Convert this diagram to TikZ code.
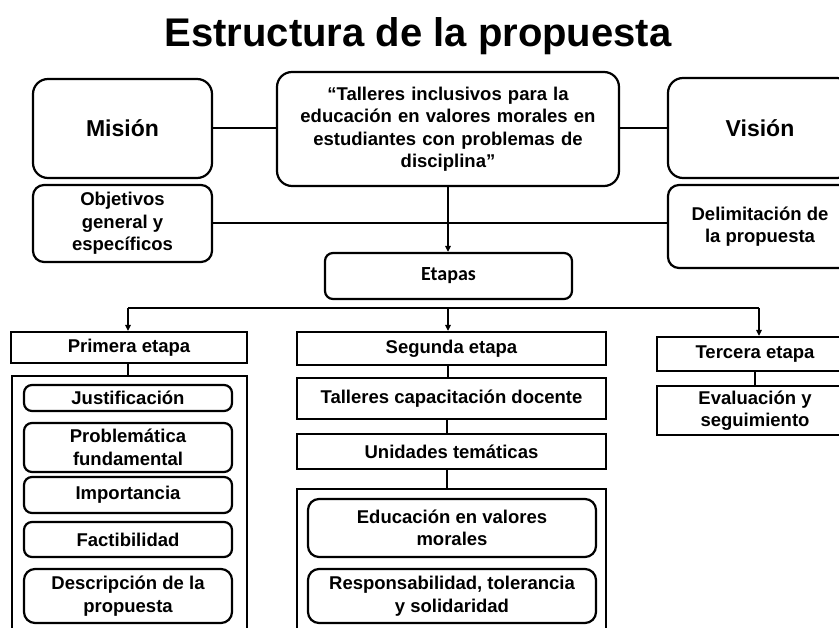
\documentclass[tikz,border=0pt]{standalone}
\usepackage{fontspec}
\setmainfont{Liberation Sans}
\newfontfamily\etfont{Carlito}
\usetikzlibrary{arrows.meta}
\begin{document}
\begin{tikzpicture}[x=1pt,y=-1pt,
  base/.style={draw,line width=2.2pt,align=center,inner sep=0pt,
    font=\bfseries\fontsize{18.5}{22.5}\selectfont},
  rbig/.style={base,rounded corners=15pt},
  rmid/.style={base,rounded corners=11pt},
  rsm/.style={base,rounded corners=8pt},
  sbox/.style={base},
  bigtxt/.style={font=\bfseries\fontsize{23}{27}\selectfont},
  conn/.style={line width=2pt},
  arr/.style={line width=2pt,-{Triangle[length=6pt,width=5.5pt]}}
]
\useasboundingbox (0,0) rectangle (839,628);
\clip (0,0) rectangle (839,628);

\node[anchor=base,font=\bfseries\fontsize{40}{46}\selectfont] (title) at (418,47) {Estructura de la propuesta};

% top row
\node[rbig,bigtxt,minimum width=179pt,minimum height=99pt] (mision) at (122.5,128.5) {Misión};
\node[rbig,minimum width=342pt,minimum height=114pt,text width=330pt] (tema) at (448,129)
  {“Talleres inclusivos para la\\educación en valores morales en\\estudiantes con problemas de\\disciplina"};
\node[rbig,bigtxt,minimum width=184pt,minimum height=100pt] (vision) at (760,128) {Visión};
\node[rmid,minimum width=179pt,minimum height=77pt] (obj) at (122.5,223.5) {Objetivos\\general y\\específicos};
\node[rmid,minimum width=184pt,minimum height=83pt] (delim) at (760,226.5) {Delimitación de\\la propuesta};
\node[rsm,minimum width=247pt,minimum height=46pt,font=\etfont\bfseries\fontsize{20}{24}\selectfont] (etapas) at (448.5,276) {Etapas};

\draw[conn] (mision.east) -- (tema.west |- mision.east);
\draw[conn] (tema.east |- vision.west) -- (vision.west);
\draw[conn] (obj.east) -- (delim.west |- obj.east);
\draw[arr] (tema.south) -- (tema.south |- etapas.north);

% branching bar
\coordinate (bl) at (128,308);
\coordinate (bm) at (448,308);
\coordinate (br) at (759,308);
\draw[conn] (bl) -- (br);

% stage 1
\node[sbox,minimum width=236pt,minimum height=31pt] (prim) at (129,347.5) {Primera etapa};
\node[sbox,minimum width=235pt,minimum height=270pt] (cont1) at (129.5,511) {};
\node[rsm,minimum width=208pt,minimum height=26pt] (just) at (128,398) {Justificación};
\node[rsm,minimum width=208pt,minimum height=49pt] (prob) at (128,447.5) {Problemática\\fundamental};
\node[rsm,minimum width=208pt,minimum height=36pt] (imp) at (128,495) {Importancia};
\node[rsm,minimum width=208pt,minimum height=35pt] (fact) at (128,539.5) {Factibilidad};
\node[rmid,minimum width=208pt,minimum height=54pt] (desc) at (128,596) {Descripción de la\\propuesta};

% stage 2
\node[sbox,minimum width=309pt,minimum height=33pt] (seg) at (451.5,348.5) {Segunda etapa};
\node[sbox,minimum width=309pt,minimum height=41pt] (tall) at (451.5,398.5) {Talleres capacitación docente};
\node[sbox,minimum width=309pt,minimum height=35pt] (unid) at (451.5,451.5) {Unidades temáticas};
\node[sbox,minimum width=309pt,minimum height=170pt] (cont2) at (451.5,574) {};
\node[rmid,minimum width=288pt,minimum height=58pt] (educ) at (452,528) {Educación en valores\\morales};
\node[rmid,minimum width=288pt,minimum height=54pt] (resp) at (452,596) {Responsabilidad, tolerancia\\y solidaridad};

% stage 3
\node[sbox,minimum width=196pt,minimum height=34pt] (ter) at (755,354) {Tercera etapa};
\node[sbox,minimum width=196pt,minimum height=49pt] (eval) at (755,410.5) {Evaluación y\\seguimiento};

\draw[arr] (bl) -- (bl |- prim.north);
\draw[arr] (bm) -- (bm |- seg.north);
\draw[arr] (br) -- (br |- ter.north);

\draw[conn] (prim.south -| bl) -- (cont1.north -| bl);
\draw[conn] (seg.south -| bm) -- (tall.north -| bm);
\draw[conn] ([xshift=-1pt]tall.south -| bm) -- ([xshift=-1pt]unid.north -| bm);
\draw[conn] ([xshift=-1pt]unid.south -| bm) -- ([xshift=-1pt]cont2.north -| bm);
\draw[conn] (ter.south) -- (eval.north);
\end{tikzpicture}
\end{document}
